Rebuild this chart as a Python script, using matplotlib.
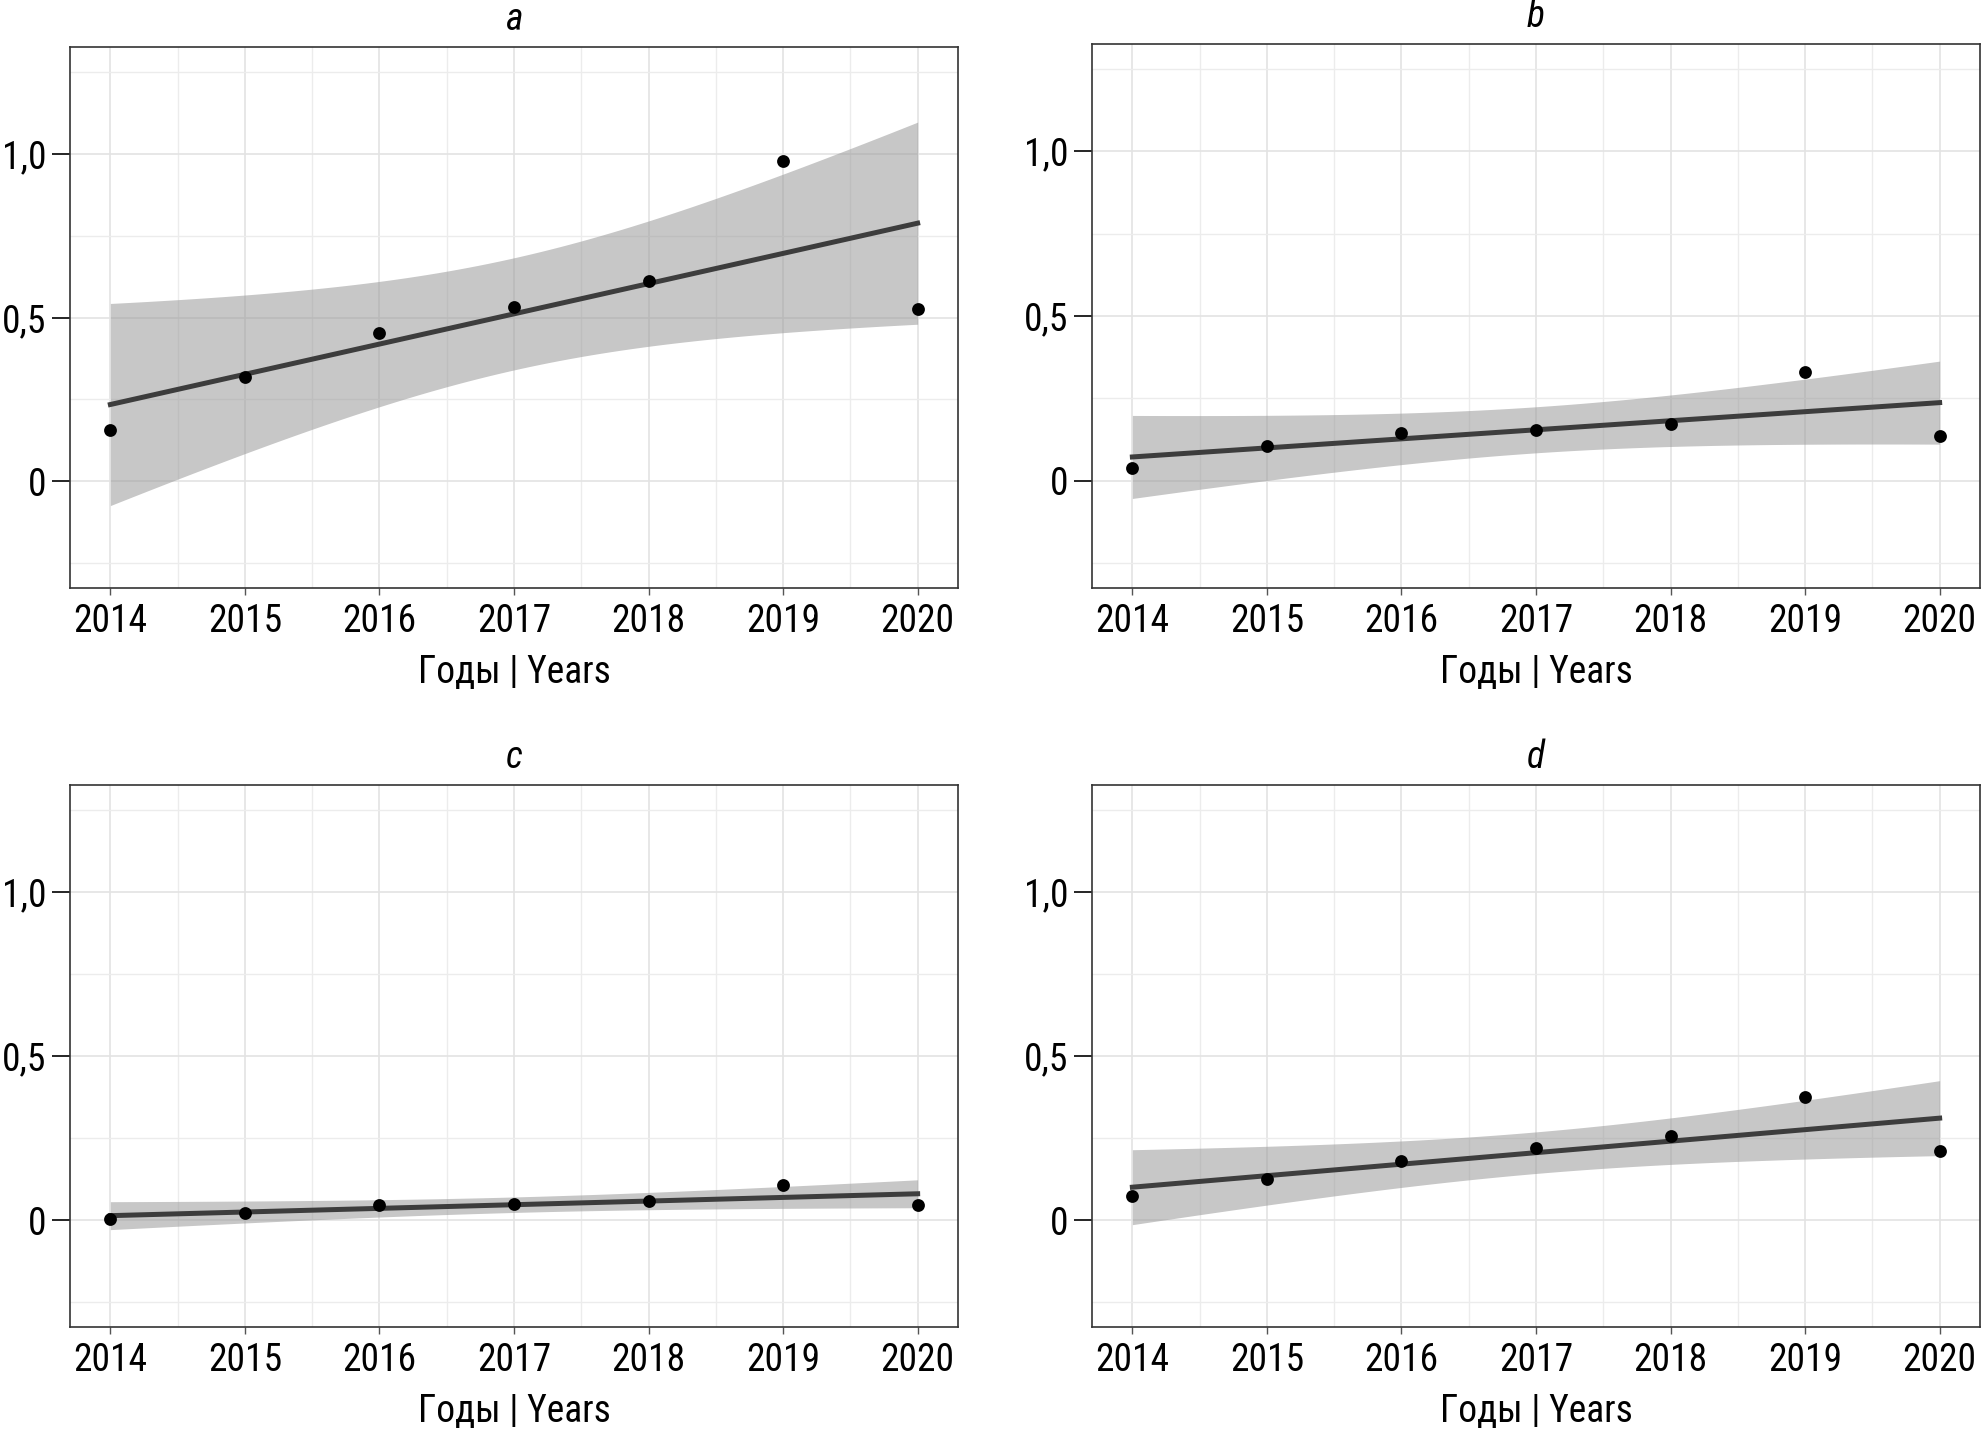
import numpy as np
import matplotlib
matplotlib.use("Agg")
import matplotlib.pyplot as plt
from matplotlib.ticker import FixedLocator, FuncFormatter

plt.rcParams['font.family'] = ['Roboto Condensed', 'Liberation Sans Narrow', 'DejaVu Sans']

# данные по панелям
years = [2014, 2015, 2016, 2017, 2018, 2019, 2020]
vals_a = [0.158, 0.319, 0.454, 0.531, 0.612, 0.977, 0.527]
vals_b = [0.039, 0.105, 0.146, 0.155, 0.173, 0.329, 0.137]
vals_c = [0.004, 0.021, 0.045, 0.049, 0.059, 0.108, 0.045]
vals_d = [0.073, 0.126, 0.181, 0.221, 0.255, 0.374, 0.210]
titles = ['a', 'b', 'c', 'd']
xlabel = 'Годы | Years'

T_975 = 2.5706  # t-квантиль, df = 5


def lm_band(x, y):
    x = np.asarray(x, float)
    y = np.asarray(y, float)
    k, b = np.polyfit(x, y, 1)
    n = len(x)
    s = np.sqrt(np.sum((y - (k * x + b)) ** 2) / (n - 2))
    xs = np.linspace(x.min(), x.max(), 80)
    fit = k * xs + b
    se = s * np.sqrt(1 / n + (xs - x.mean()) ** 2 / np.sum((x - x.mean()) ** 2))
    return xs, fit, fit - T_975 * se, fit + T_975 * se


def draw(ax, y, title):
    xs, fit, lo, hi = lm_band(years, y)
    ax.fill_between(xs, lo, hi, color='#999999', alpha=0.55, lw=0, zorder=2)
    ax.plot(xs, fit, color='#3d3d3d', lw=1.8, zorder=3)
    ax.scatter(years, y, s=13, color='black', zorder=4)
    ax.set_xlim(2013.7, 2020.3)
    ax.set_ylim(-0.325, 1.325)
    ax.xaxis.set_major_locator(FixedLocator(years))
    ax.xaxis.set_minor_locator(FixedLocator(np.arange(2013.5, 2020.6, 1.0)))
    ax.yaxis.set_major_locator(FixedLocator([0, 0.5, 1.0]))
    ax.yaxis.set_minor_locator(FixedLocator([-0.25, 0.25, 0.75, 1.25]))
    ax.yaxis.set_major_formatter(FuncFormatter(lambda v, p: '0' if v == 0 else f'{v:.1f}'.replace('.', ',')))
    ax.grid(which='major', color='#e3e3e3', lw=0.6, zorder=0)
    ax.grid(which='minor', color='#ececec', lw=0.5, zorder=0)
    ax.set_axisbelow(True)
    ax.tick_params(axis='y', which='major', length=6.5, width=0.6, color='black',
                   labelsize=13.5, pad=2)
    ax.tick_params(axis='x', which='major', length=2.5, width=0.5, color='#555555',
                   labelsize=13.5, pad=3)
    ax.tick_params(which='minor', length=0)
    for sp in ax.spines.values():
        sp.set_color('#333333')
        sp.set_linewidth(0.6)
    ax.set_xlabel(xlabel, fontsize=13.5, labelpad=5)
    ax.set_title(title, fontsize=13.5, style='italic', pad=6)


fig = plt.figure(figsize=(9.915, 7.165), dpi=200)
W, H = 1983, 1433
rects = [(70, 47, 958, 588), (1092, 44, 1980, 588),
         (70, 785, 958, 1327), (1092, 785, 1980, 1327)]
series = [vals_a, vals_b, vals_c, vals_d]
for (x0, y0, x1, y1), y, t in zip(rects, series, titles):
    ax = fig.add_axes([x0 / W, 1 - y1 / H, (x1 - x0) / W, (y1 - y0) / H])
    draw(ax, y, t)

fig.savefig('out.png', dpi=200)
